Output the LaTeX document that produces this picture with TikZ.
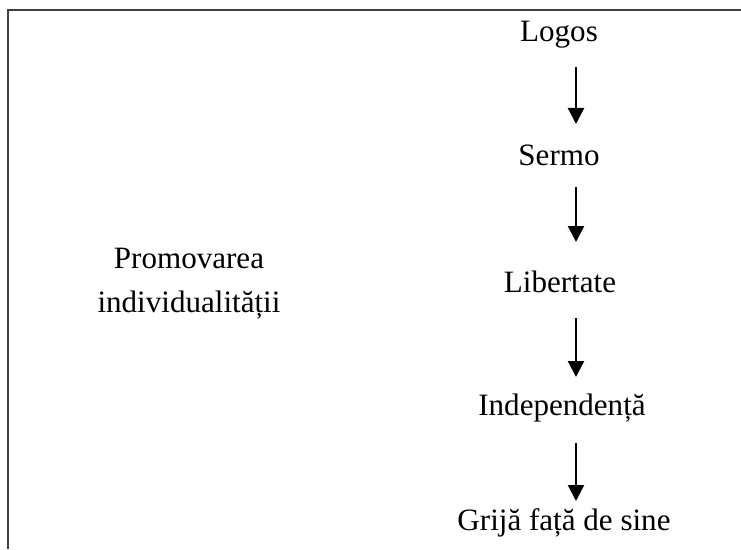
\documentclass[tikz,border=0pt]{standalone}
\usepackage{fontspec}
\setmainfont{Liberation Serif}
\usetikzlibrary{arrows.meta}
\tikzset{>={Triangle[length=12pt,width=12pt]}}

\begin{document}
\begin{tikzpicture}[x=0.75pt, y=-0.75pt, % unități în pixeli, y în jos
                    word/.style={anchor=base, inner sep=0pt, font=\fontsize{23.3}{33}\selectfont},
                    flow/.style={->, line width=1.8pt},
                    frame/.style={line width=1.5pt, black!75}]
  \useasboundingbox (0,0) rectangle (741,549);
  \coordinate (spine) at (576,0); % axa săgeților

% Chenarul (doar sus și stânga)
  \draw[frame] (741,10) -- (8,10) -- (8,549);

% Eticheta din stânga (ancora base = ultimul rând)
  \node[word, align=center] (promo) at (189,312) {Promovarea\\individualității};

% Coloana din dreapta
  \node[word] (logos)     at (559,42)  {Logos};
  \node[word] (sermo)     at (559,166) {Sermo};
  \node[word] (libertate) at (560,292) {Libertate};
  \node[word] (indep)     at (562,415) {Independență};
  \node[word] (grija)     at (564,530) {Grijă față de sine};

% Săgețile
  \foreach \from/\to/\gapA/\gapB in {logos/sermo/25/42, sermo/libertate/21/50,
                                     libertate/indep/26/38, indep/grija/28/29}
    \draw[flow, shorten <=\gapA*0.75pt, shorten >=\gapB*0.75pt]
      (\from.base -| spine) -- (\to.base -| spine);
\end{tikzpicture}
\end{document}
